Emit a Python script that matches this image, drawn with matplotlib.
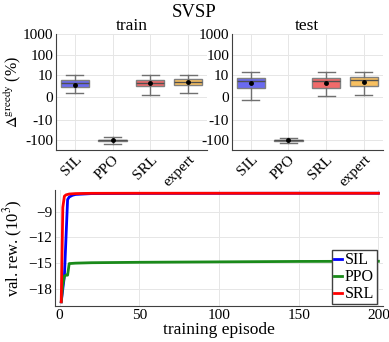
import matplotlib
matplotlib.use("Agg")
import matplotlib.pyplot as plt

plt.rcParams['font.family'] = ['Liberation Serif', 'DejaVu Serif']
plt.rcParams['mathtext.fontset'] = 'stix'

# box data (Delta greedy, %)
methods = ["SIL", "PPO", "SRL", "expert"]
box_colors = ["#6a6af0", "#3a3a3a", "#f06a6a", "#f8c060"]

train_q1 = [4.8, -90, 5.1, 5.4]
train_med = [6.2, -100, 6.5, 7.0]
train_q3 = [7.6, -110, 7.9, 8.4]
train_lo = [1.9, -70, 1.3, 2.2]
train_hi = [10.0, -143, 9.9, 10.3]
train_mean = [5.5, -100, 6.2, 6.7]

test_q1 = [4.1, -92, 4.1, 4.9]
test_med = [7.5, -100, 7.5, 7.8]
test_q3 = [8.6, -108, 8.6, 9.2]
test_lo = [-1.3, -72, 0.6, 1.0]
test_hi = [13.4, -140, 13.4, 13.7]
test_mean = [6.5, -100, 6.5, 7.0]

# learning curves (val. rew., 10^3)
ep_sil = [1, 2, 3, 4, 5, 6, 8, 10, 15, 20, 50, 100, 150, 200]
rew_sil = [-19.5, -18.0, -16.5, -12.0, -7.6, -7.3, -7.1, -7.0, -6.95, -6.9, -6.88, -6.87, -6.86, -6.86]
ep_ppo = [1, 2, 3, 4, 5, 6, 10, 20, 50, 100, 150, 200]
rew_ppo = [-19.5, -17.5, -16.5, -16.4, -16.4, -15.05, -15.0, -14.95, -14.9, -14.85, -14.8, -14.78]
ep_srl = [1, 2, 3, 4, 6, 10, 20, 50, 100, 150, 200]
rew_srl = [-19.5, -8.5, -7.2, -7.05, -6.95, -6.9, -6.87, -6.86, -6.86, -6.86, -6.86]
line_colors = ["#0000ff", "#1a8a1a", "#ff0000"]

fig = plt.figure(figsize=(3.89, 3.42), dpi=100)
ax_tr = fig.add_axes([0.144, 0.561, 0.388, 0.339])
ax_te = fig.add_axes([0.596, 0.561, 0.388, 0.339])
ax_lc = fig.add_axes([0.141, 0.105, 0.844, 0.339])


def draw_boxes(ax, q1, med, q3, lo, hi, mean, title):
    stats = []
    for i in range(len(methods)):
        stats.append(dict(label=methods[i], q1=q1[i], med=med[i], q3=q3[i],
                          whislo=lo[i], whishi=hi[i], mean=mean[i], fliers=[]))
    bp = ax.bxp(stats, widths=0.75, patch_artist=True, showmeans=True, showfliers=False,
                boxprops=dict(edgecolor="#808080", linewidth=1.0),
                whiskerprops=dict(color="#707070", linewidth=1.0),
                capprops=dict(color="#707070", linewidth=1.0),
                medianprops=dict(color="#505050", linewidth=1.0),
                meanprops=dict(marker="o", markerfacecolor="black", markeredgecolor="black", markersize=2.5),
                capwidths=0.45)
    for patch, c in zip(bp["boxes"], box_colors):
        patch.set_facecolor(c)
    ax.set_yscale("symlog", linthresh=10, linscale=1)
    ax.set_ylim(-300, 1000)
    ax.set_xlim(0.5, 4.5)
    ax.set_yticks([-100, -10, 0, 10, 100, 1000])
    ax.set_yticklabels(["-100", "-10", "0", "10", "100", "1000"])
    ax.yaxis.set_minor_locator(matplotlib.ticker.NullLocator())
    ax.set_xticks(range(1, 5))
    ax.set_xticklabels(methods, rotation=45, ha="right", rotation_mode="anchor")
    ax.grid(True, color="#e6e6e6", linewidth=0.7)
    ax.set_axisbelow(True)
    for s in ["top", "right"]:
        ax.spines[s].set_visible(False)
    for s in ["left", "bottom"]:
        ax.spines[s].set_color("#404040")
    ax.tick_params(length=0, labelsize=11, pad=2)
    ax.set_title(title, fontsize=12.5, pad=2)


draw_boxes(ax_tr, train_q1, train_med, train_q3, train_lo, train_hi, train_mean, "train")
draw_boxes(ax_te, test_q1, test_med, test_q3, test_lo, test_hi, test_mean, "test")
ax_tr.set_ylabel(r"$\Delta^{\mathrm{greedy}}$ (%)", fontsize=11.5, labelpad=0)
fig.text(0.5, 0.962, "SVSP", ha="center", va="center", fontsize=13.5)

ax_lc.plot(ep_sil, rew_sil, color=line_colors[0], lw=2, label="SIL")
ax_lc.plot(ep_ppo, rew_ppo, color=line_colors[1], lw=2, label="PPO")
ax_lc.plot(ep_srl, rew_srl, color=line_colors[2], lw=2, label="SRL")
ax_lc.set_xlim(-3, 203)
ax_lc.set_ylim(-20, -6.5)
ax_lc.set_xticks([0, 50, 100, 150, 200])
ax_lc.set_yticks([-18, -15, -12, -9])
ax_lc.set_xlabel("training episode", fontsize=12.5, labelpad=0)
ax_lc.set_ylabel(r"val. rew. (10$^3$)", fontsize=12, labelpad=2)
ax_lc.grid(True, color="#e6e6e6", linewidth=0.7)
for s in ["top", "right"]:
    ax_lc.spines[s].set_visible(False)
for s in ["left", "bottom"]:
    ax_lc.spines[s].set_color("#404040")
ax_lc.tick_params(length=0, labelsize=11, pad=2)
leg = ax_lc.legend(loc="lower right", fontsize=11.5, handlelength=0.45, handletextpad=0.2,
                   borderpad=0.15, labelspacing=0.05, fancybox=False, framealpha=1,
                   borderaxespad=0.1, bbox_to_anchor=(0.985, 0.0))
leg.get_frame().set_edgecolor("#404040")

fig.savefig("out.png", dpi=100)
